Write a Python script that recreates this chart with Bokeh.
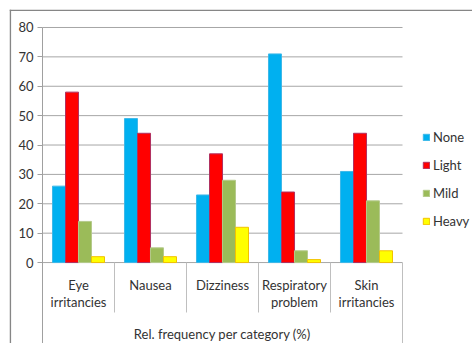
from bokeh.plotting import figure
from bokeh.models import (ColumnDataSource, Range1d, FixedTicker, LinearAxis,
                          Legend, LegendItem)
from bokeh.transform import dodge
from bokeh.core.properties import value
from bokeh.embed import file_html
from bokeh.resources import INLINE

# Symptom categories (two-line labels) and relative frequencies (%)
categories = ["Eye\nirritancies", "Nausea", "Dizziness", "Respiratory\nproblem", "Skin\nirritancies"]
none_vals = [26, 49, 23, 71, 31]
light_vals = [58, 44, 37, 24, 44]
mild_vals = [14, 5, 28, 4, 21]
heavy_vals = [2, 2, 12, 1, 4]
series_names = ["None", "Light", "Mild", "Heavy"]
y_ticks = [0, 10, 20, 30, 40, 50, 60, 70, 80]
axis_title = "Rel. frequency per category (%)"

fills = ["#00B0F0", "#FF0000", "#9BBB59", "#FFFF00"]
edges = ["#3DB8E8", "#B03060", "#B4CA8A", "#F2C200"]

FONT = "Lato"
TXT = "#333333"

n = len(categories)
centers = [i + 0.5 for i in range(n)]

src = ColumnDataSource(dict(
    x=centers, none=none_vals, light=light_vals, mild=mild_vals, heavy=heavy_vals,
))

# 72 px per category, 2.94 px per percentage point
X0, X1 = -33 / 72, (472 - 42) / 72
Y0, Y1 = -81 / 2.94, 80 + 18 / 2.94

p = figure(width=472, height=343, output_backend="svg", toolbar_location=None,
           x_range=Range1d(X0, X1), y_range=Range1d(Y0, Y1),
           min_border_left=9, min_border_right=0, min_border_top=9, min_border_bottom=0,
           outline_line_color=None, x_axis_type=None, y_axis_type=None)
p.grid.visible = False
p.background_fill_color = "white"
p.border_fill_color = "white"

# value axis pinned at the start of the category span
yaxis = LinearAxis(ticker=FixedTicker(ticks=y_ticks), fixed_location=0, bounds=(Y0, 80))
yaxis.axis_line_color = "#A0A0A0"
yaxis.major_tick_line_color = "#A0A0A0"
yaxis.major_tick_out = 5
yaxis.major_tick_in = 0
yaxis.minor_tick_line_color = None
yaxis.major_label_standoff = 4
yaxis.major_label_text_font = FONT
yaxis.major_label_text_font_size = "13px"
yaxis.major_label_text_color = TXT
p.add_layout(yaxis, "left")

# horizontal gridlines across the category span only
p.segment(x0=[0] * len(y_ticks), x1=[n] * len(y_ticks), y0=y_ticks, y1=y_ticks,
          line_color="#A6A6A6", line_width=1)

# grouped bars
bar_w = 13 / 72
offsets = [-0.271, -0.09, 0.09, 0.271]
fields = ["none", "light", "mild", "heavy"]
bar_renderers = []
for f, off, fc, lc in zip(fields, offsets, fills, edges):
    r = p.vbar(x=dodge("x", off), top=f, width=bar_w, bottom=0, source=src,
               fill_color=fc, line_color=lc, line_width=1)
    bar_renderers.append(r)

# category separators below the baseline
sep_x = list(range(1, n))
p.segment(x0=sep_x, x1=sep_x, y0=[0] * len(sep_x), y1=[-17] * len(sep_x),
          line_color="#BFBFBF", line_width=1)
p.segment(x0=[n], x1=[n], y0=[0], y1=[Y0], line_color="#BFBFBF", line_width=1)

# category labels
p.text(x=centers, y=[-4.9] * n, text=categories, text_align="center",
       text_baseline="top", text_font=value(FONT), text_font_size="13px",
       text_color=TXT, text_line_height=1.05)

# axis title
p.text(x=[n / 2], y=[-24.4], text=[axis_title], text_align="center",
       text_baseline="middle", text_font=value(FONT), text_font_size="13px",
       text_color=TXT)

# chart area border: top and left edges
edge_dx = 0.8 / 72
edge_dy = 0.8 / 2.94
p.segment(x0=[X0, X0 + edge_dx], x1=[X1, X0 + edge_dx],
          y0=[Y1 - edge_dy, Y1], y1=[Y1 - edge_dy, Y0],
          line_color="#868686", line_width=1.6)

legend = Legend(items=[LegendItem(label=nm, renderers=[r])
                       for nm, r in zip(series_names, bar_renderers)],
                location=(413, 112), orientation="vertical",
                padding=0, margin=0, spacing=8, label_height=20,
                glyph_width=8, glyph_height=8, label_standoff=3,
                label_text_font=FONT, label_text_font_size="13px",
                label_text_color=TXT, background_fill_alpha=0,
                border_line_color=None)
p.add_layout(legend, "center")

open("out.html", "w").write(file_html(p, INLINE))
